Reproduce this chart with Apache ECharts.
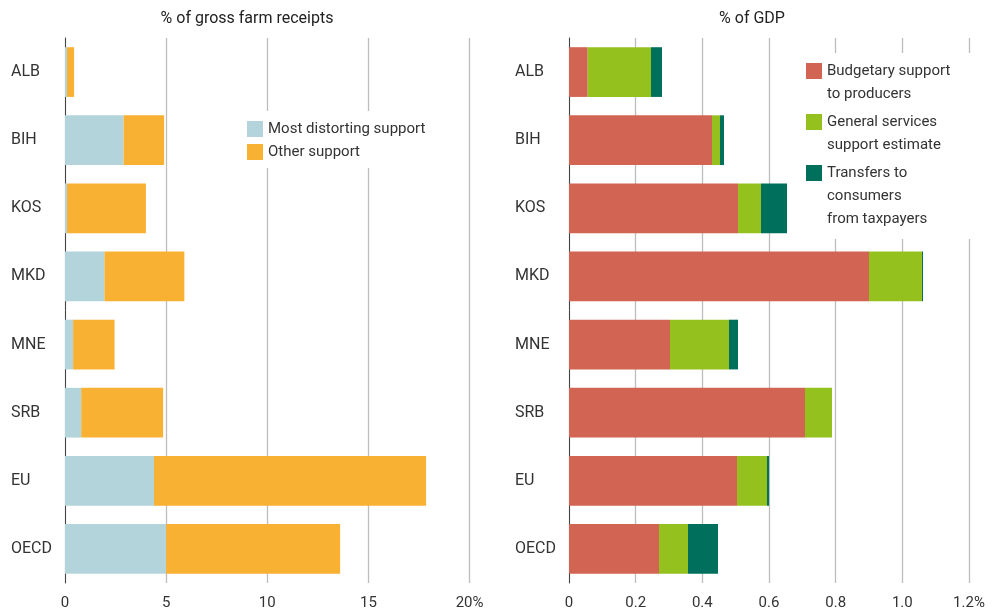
<!DOCTYPE html>
<html>
<head>
<meta charset="utf-8">
<script src="https://cdn.jsdelivr.net/npm/echarts@6/dist/echarts.min.js"></script>
<style>
  html, body { margin: 0; padding: 0; background: #fff; }
  #chart { width: 994px; height: 611px; }
</style>
</head>
<body>
<div id="chart"></div>
<script>
// categories (top to bottom)
let countries = ['ALB', 'BIH', 'KOS', 'MKD', 'MNE', 'SRB', 'EU', 'OECD'];

// left panel: % of gross farm receipts
let mostDistorting = [0.1, 2.9, 0.1, 1.95, 0.4, 0.8, 4.4, 5.0];
let otherSupport = [0.35, 2.0, 3.9, 3.95, 2.05, 4.05, 13.45, 8.6];

// right panel: % of GDP
let budgetary = [0.056, 0.429, 0.507, 0.900, 0.303, 0.708, 0.504, 0.270];
let generalServices = [0.190, 0.024, 0.069, 0.159, 0.177, 0.081, 0.090, 0.087];
let transfers = [0.033, 0.012, 0.078, 0.003, 0.027, 0, 0.006, 0.090];

// axis ticks
let leftTicks = {min: 0, max: 20, interval: 5};
let rightTicks = {min: 0, max: 1.2, interval: 0.2};

let FONT = 'Roboto';
let TXT = '#333333';
let GRID_LINE = '#bdbdbd';

let names = {
    distorting: 'Most distorting support',
    other: 'Other support',
    budgetary: 'Budgetary support\nto producers',
    general: 'General services\nsupport estimate',
    transfers: 'Transfers to\nconsumers\nfrom taxpayers'
};

function valueAxis(gridIndex, ticks, lastLabel, fmt) {
    return {
        type: 'value', gridIndex: gridIndex,
        min: ticks.min, max: ticks.max, interval: ticks.interval,
        axisLine: {show: false},
        axisTick: {show: false},
        splitLine: {show: true, lineStyle: {color: GRID_LINE, width: 1.3}},
        axisLabel: {
            color: TXT, fontFamily: FONT, fontSize: 15, margin: 13,
            formatter: function (v) {
                if (v === ticks.max) return lastLabel;
                return fmt(v);
            }
        }
    };
}

function catAxis(gridIndex) {
    return {
        type: 'category', gridIndex: gridIndex, data: countries, inverse: true,
        axisLine: {show: true, lineStyle: {color: '#444', width: 1}},
        axisTick: {show: false},
        axisLabel: {color: TXT, fontFamily: FONT, fontSize: 16, align: 'left', margin: 54}
    };
}

function barSeries(name, data, color, xi, stack) {
    return {
        name: name, type: 'bar', stack: stack,
        xAxisIndex: xi, yAxisIndex: xi,
        data: data, barCategoryGap: '27%',
        itemStyle: {color: color},
        emphasis: {disabled: true}
    };
}

let legendText = {color: TXT, fontFamily: FONT, fontSize: 15, lineHeight: 23};

// multi-line legend entries: pad with blank lines on top so the first
// line sits level with the colour square (text is centred on the square)
function topAligned(extra) {
    return function (name) {
        let pad = '';
        for (let i = 0; i < extra; i++) pad += ' \n';
        return pad + name;
    };
}

function rightLegend(name, top, extra) {
    return {
        orient: 'vertical', left: 806, top: top, padding: 0,
        itemWidth: 16, itemHeight: 16, itemTextGap: 16, icon: 'rect',
        textStyle: legendText, formatter: topAligned(extra), data: [name]
    };
}

let chart = echarts.init(document.getElementById('chart'));
let option = {
    animation: false,
    backgroundColor: '#fff',
    title: [
        {text: '% of gross farm receipts', left: 242, top: 6, textAlign: 'center',
            textStyle: {fontFamily: FONT, fontSize: 16, fontWeight: 'normal', color: '#222'}},
        {text: '% of GDP', left: 747, top: 6, textAlign: 'center',
            textStyle: {fontFamily: FONT, fontSize: 16, fontWeight: 'normal', color: '#222'}}
    ],
    grid: [
        {left: 65, width: 404.6, top: 38, bottom: 27},
        {left: 569, width: 400, top: 38, bottom: 27}
    ],
    xAxis: [
        valueAxis(0, leftTicks, '20%', function (v) { return String(v); }),
        valueAxis(1, rightTicks, '1.2%', function (v) { return v === 0 ? '0' : v.toFixed(1); })
    ],
    yAxis: [catAxis(0), catAxis(1)],
    legend: [
        {orient: 'vertical', left: 247, top: 117.5, padding: 0, itemGap: 0,
            itemWidth: 16, itemHeight: 16, itemTextGap: 16, icon: 'rect',
            textStyle: legendText, data: [names.distorting, names.other]},
        rightLegend(names.budgetary, 36.5, 1),
        rightLegend(names.general, 87.5, 1),
        rightLegend(names.transfers, 115.5, 2)
    ],
    // white boxes behind the legends hide the grid lines there
    graphic: [
        {type: 'rect', z: 1, shape: {x: 240, y: 111, width: 200, height: 57}, style: {fill: '#fff'}},
        {type: 'rect', z: 1, shape: {x: 798, y: 53, width: 196, height: 186}, style: {fill: '#fff'}}
    ],
    series: [
        barSeries(names.distorting, mostDistorting, '#b2d4da', 0, 'l'),
        barSeries(names.other, otherSupport, '#f8b133', 0, 'l'),
        barSeries(names.budgetary, budgetary, '#d16453', 1, 'r'),
        barSeries(names.general, generalServices, '#95c11f', 1, 'r'),
        barSeries(names.transfers, transfers, '#006f5b', 1, 'r')
    ]
};
chart.setOption(option);
</script>
</body>
</html>
